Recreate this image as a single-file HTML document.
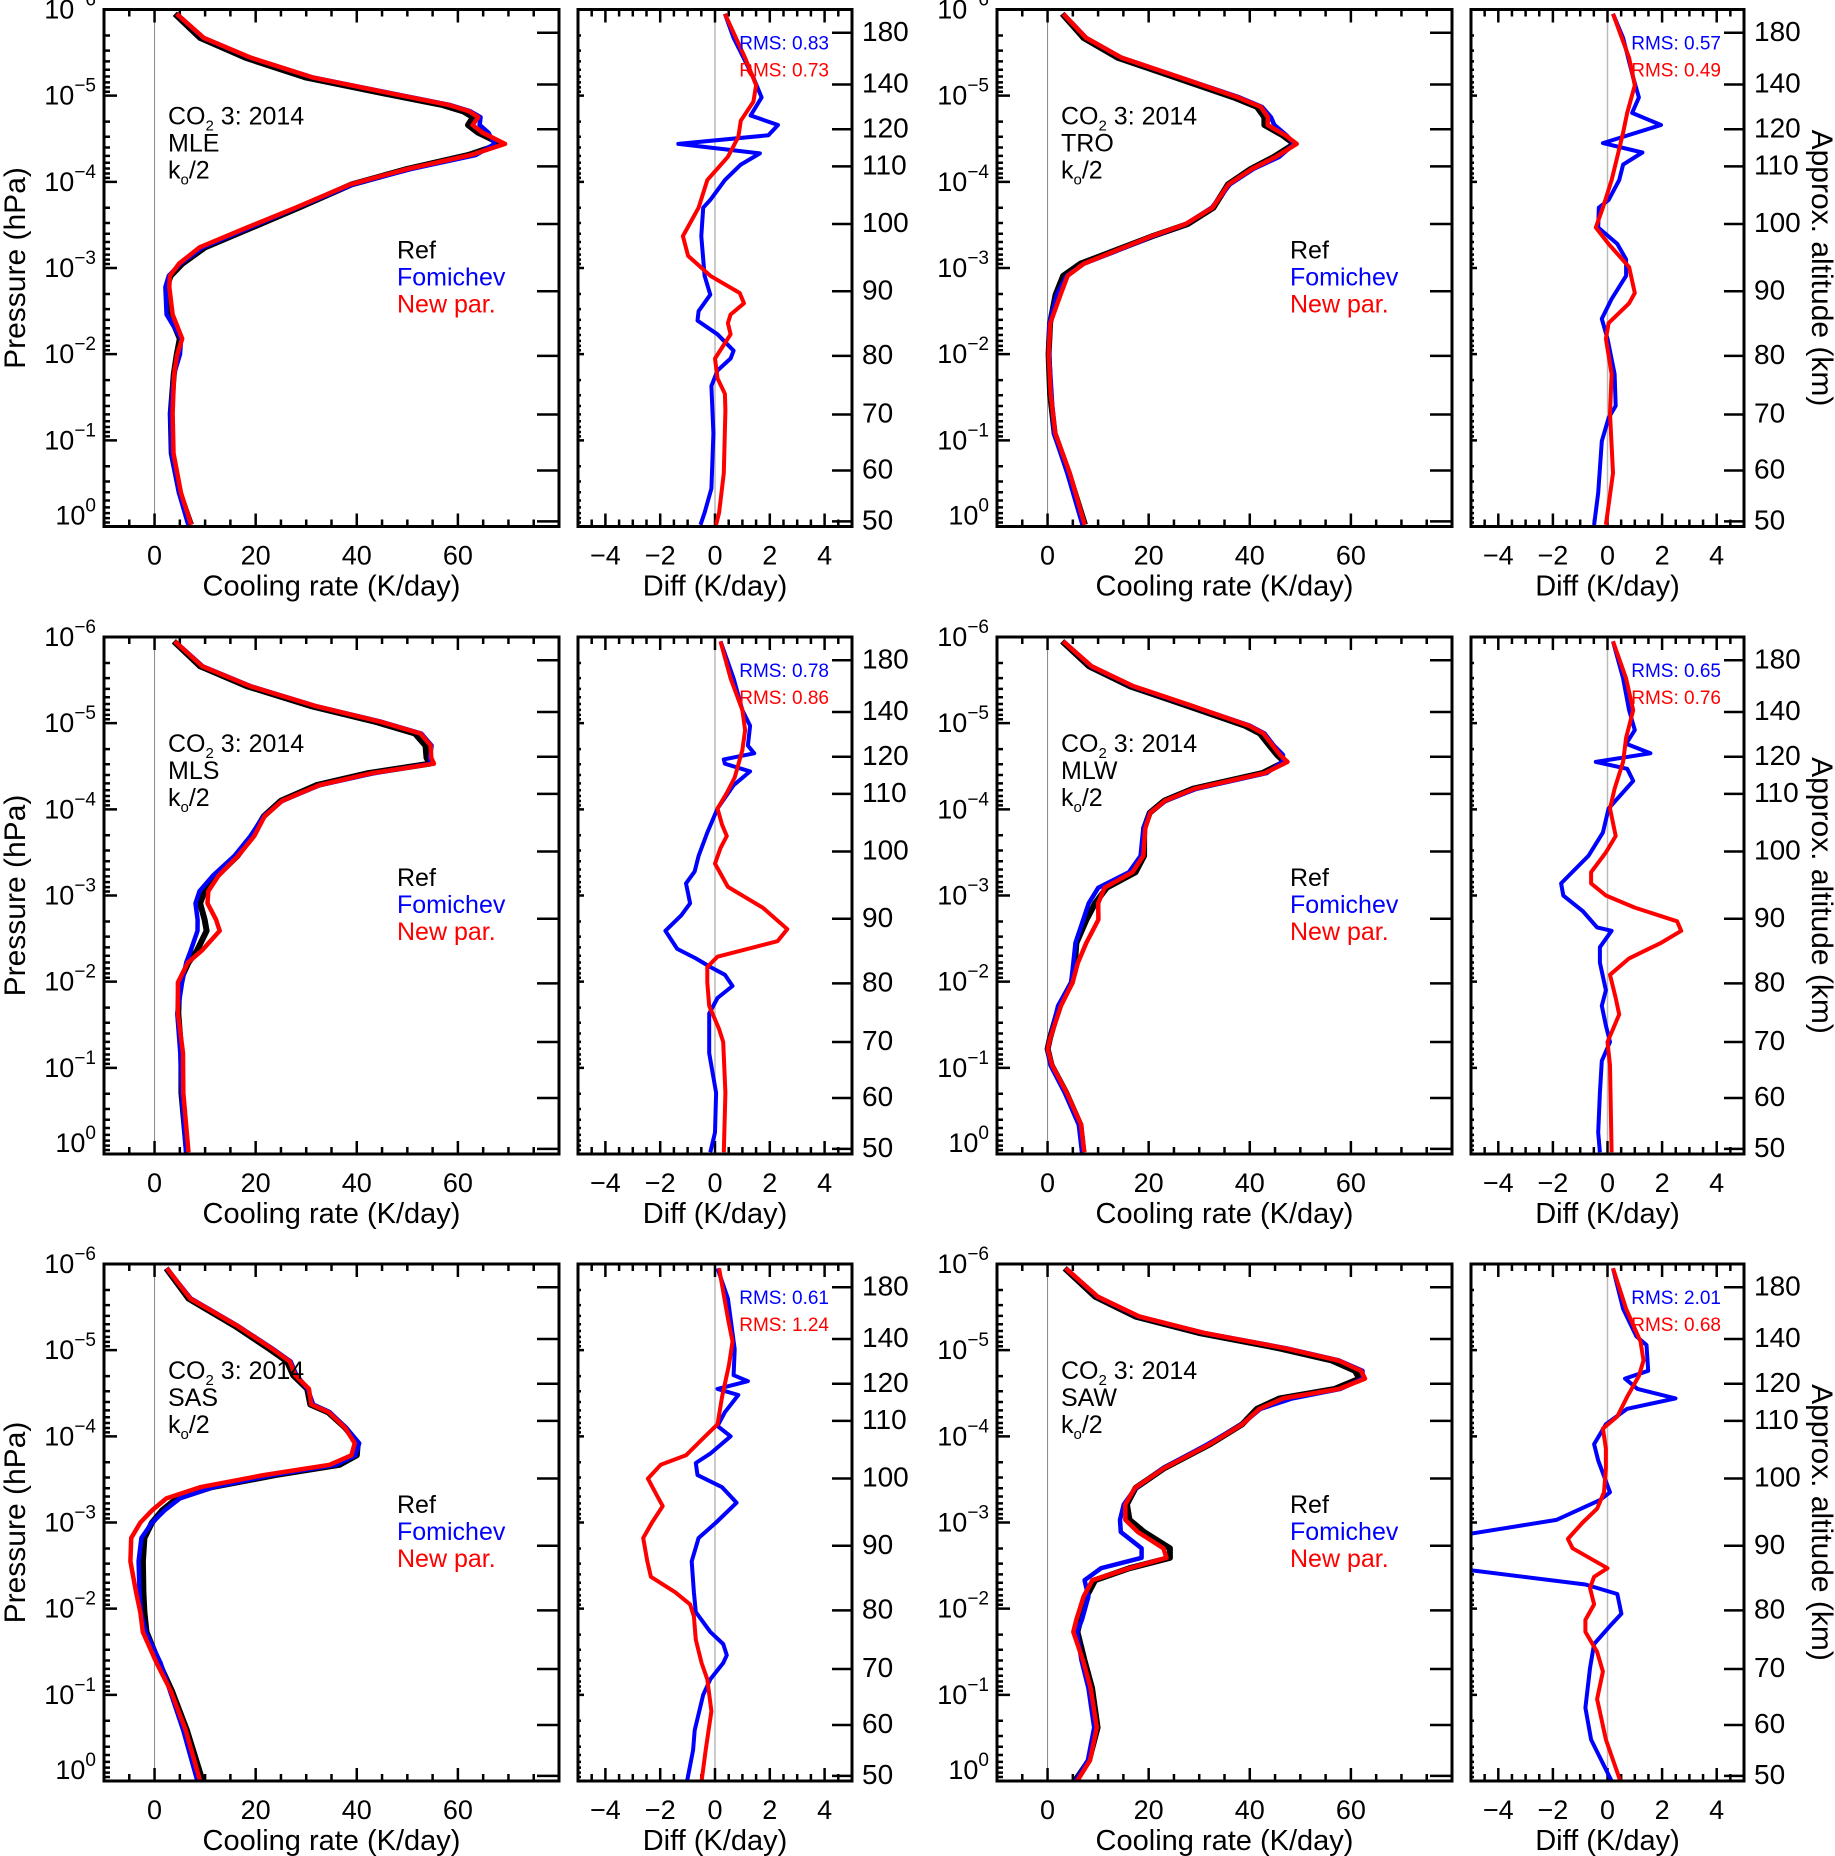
<!DOCTYPE html>
<html><head><meta charset="utf-8">
<style>
html,body{margin:0;padding:0;background:#fff;}
svg{display:block;font-family:"Liberation Sans",sans-serif;}
</style></head>
<body>
<svg id="fig" width="1835" height="1856" viewBox="0 0 1835 1856" xmlns="http://www.w3.org/2000/svg"></svg>
<script>
// ---------- DATA (log10 pressure levels in hPa, values K/day) ----------
const panelNames = ["MLE","TRO","MLS","MLW","SAS","SAW"];
const rmsFom = ["0.83","0.57","0.78","0.65","0.61","2.01"];
const rmsNew = ["0.73","0.49","0.86","0.76","1.24","0.68"];
const coolTicks = [0,20,40,60];
const diffTicks = [-4,-2,0,2,4];
const pressTicks = [-6,-5,-4,-3,-2,-1,0];
const altLabels = [180,140,120,110,100,90,80,70,60,50];
const altLogP = [-5.73,-5.13,-4.61,-4.18,-3.51,-2.73,-1.98,-1.30,-0.65,-0.06];

// MLE
const refLev0 = [-5.95,-5.67,-5.44,-5.21,-5.03,-4.89,-4.82,-4.75,-4.66,-4.57,-4.44,-4.31,-4.15,-3.97,-3.70,-3.47,-3.24,-3.05,-2.91,-2.78,-2.46,-2.18,-2.0,-1.77,-1.31,-0.85,-0.39,-0.02];
const ref0 = [4,9,18,30,45,57,61,63,62,64,68.6,62,50,39,28.5,19.3,10,5.5,3.2,2.4,3,5,4.4,3.8,3.2,3.4,5,7.2];
const fomLev0 = [-5.95,-5.67,-5.21,-4.98,-4.77,-4.66,-4.54,-4.44,-4.33,-4.2,-4.02,-3.79,-3.7,-3.37,-2.91,-2.69,-2.5,-2.39,-2.23,-2.04,-1.95,-1.81,-1.63,-1.08,-0.44,-0.16,-0.02];
const dFom0 = [0.36,0.68,1.4,1.7,1.3,2.3,1.95,-1.34,1.64,0.94,0.36,-0.17,-0.43,-0.5,-0.38,-0.17,-0.6,-0.64,0.09,0.68,0.57,0.09,-0.13,-0.06,-0.13,-0.38,-0.53];
const newLev0 = [-5.95,-5.44,-5.12,-4.93,-4.71,-4.52,-4.29,-4.02,-3.70,-3.37,-3.14,-2.91,-2.71,-2.59,-2.46,-2.36,-2.23,-1.95,-1.72,-1.54,-1.35,-0.62,-0.16,-0.02];
const dNew0 = [0.36,1.1,1.5,1.4,0.94,0.85,0.47,-0.28,-0.6,-1.17,-0.98,-0.17,0.9,1.06,0.57,0.47,0.57,0.0,0.09,0.36,0.38,0.32,0.15,0.04];
// TRO
const refLev1 = [-5.95,-5.67,-5.44,-5.21,-4.98,-4.87,-4.75,-4.66,-4.54,-4.44,-4.29,-4.15,-3.97,-3.70,-3.51,-3.37,-3.19,-3.05,-2.91,-2.69,-2.36,-2.0,-1.54,-1.08,-0.62,-0.02];
const ref1 = [2.9,7.1,13.9,25.4,36.8,41.4,42.9,42.9,46.5,48.8,44.8,40.2,35.7,32.8,27.7,20.8,12.8,6.5,3.1,1.6,0.5,0.2,0.5,1.4,4.2,7.4];
const fomLev1 = [-5.95,-5.67,-5.21,-4.98,-4.8,-4.66,-4.45,-4.34,-4.2,-4.02,-3.79,-3.7,-3.47,-3.28,-3.1,-2.91,-2.64,-2.41,-2.18,-1.77,-1.4,-1.26,-0.99,-0.39,-0.02];
const dFom1 = [0.2,0.57,0.94,1.15,0.9,1.96,-0.17,1.28,0.57,0.43,0.04,-0.32,-0.34,0.36,0.68,0.68,0.15,-0.21,0,0.26,0.3,0.04,-0.21,-0.34,-0.49];
const newLev1 = [-5.95,-5.44,-5.12,-4.8,-4.57,-4.29,-4.02,-3.7,-3.47,-3.28,-3.01,-2.71,-2.59,-2.36,-2.18,-1.77,-1.31,-0.62,-0.02];
const dNew1 = [0.2,0.79,1.0,0.72,0.57,0.36,0.15,-0.17,-0.43,0.04,0.79,1.0,0.79,0.04,-0.06,0.15,0.09,0.2,-0.06];
// MLS
const refLev2 = [-5.95,-5.66,-5.43,-5.2,-5.02,-4.88,-4.74,-4.6,-4.53,-4.42,-4.28,-4.1,-3.92,-3.69,-3.46,-3.23,-3.05,-2.91,-2.72,-2.59,-2.36,-2.22,-1.99,-1.63,-1.17,-0.71,-0.02];
const ref2 = [3.8,9,18.2,30.8,43.4,51.5,53.6,53.8,54.4,42.3,32,25,21.6,19.3,16.4,12.4,9.9,9,9.9,10.3,8.4,6.7,4.9,4.7,5.3,5.3,6.4];
const fomLev2 = [-5.95,-5.52,-5.15,-4.97,-4.74,-4.65,-4.58,-4.53,-4.44,-4.28,-4.01,-3.73,-3.46,-3.28,-3.14,-2.91,-2.77,-2.59,-2.38,-2.27,-2.17,-2.08,-1.95,-1.81,-1.63,-1.17,-0.71,-0.25,-0.02];
const dFom2 = [0.2,0.68,1.0,1.28,1.2,1.43,0.32,0.36,1.28,0.68,0.09,-0.28,-0.6,-0.74,-1.06,-0.91,-1.23,-1.81,-1.38,-0.7,-0.17,0.36,0.64,0.09,-0.21,-0.21,0.04,0,-0.17];
const newLev2 = [-5.95,-5.52,-5.15,-4.92,-4.69,-4.37,-4.19,-4.01,-3.82,-3.69,-3.55,-3.37,-3.1,-2.86,-2.61,-2.47,-2.29,-2.17,-1.99,-1.72,-1.45,-1.3,-0.71,-0.02];
const dNew2 = [0.2,0.57,1.0,1.1,1.0,0.72,0.43,0.09,0.26,0.43,0.2,0,0.47,1.74,2.64,2.28,0.09,-0.28,-0.28,-0.21,0.15,0.3,0.38,0.32];
// MLW
const refLev3 = [-5.95,-5.66,-5.43,-5.2,-4.97,-4.88,-4.74,-4.63,-4.55,-4.42,-4.24,-4.1,-3.96,-3.78,-3.46,-3.27,-3.09,-2.91,-2.72,-2.45,-2.22,-1.99,-1.72,-1.35,-1.22,-1.03,-0.71,-0.34,-0.02];
const ref3 = [2.9,8.2,16.2,27.7,39.1,42,43.9,45.4,46.9,42.5,28.8,23.1,20.2,19.1,19.1,17.4,11.7,9.4,7.7,5.7,5.4,4.8,2.3,0.5,0,0.8,3.7,6.5,7.1];
const fomLev3 = [-5.95,-5.52,-5.15,-4.92,-4.76,-4.65,-4.55,-4.47,-4.33,-4.01,-3.73,-3.46,-3.14,-3.0,-2.82,-2.63,-2.59,-2.4,-2.22,-1.9,-1.72,-1.49,-1.3,-1.08,-0.71,-0.25,-0.02];
const dFom3 = [0.2,0.57,0.79,1.0,0.68,1.57,-0.43,0.72,0.94,0.04,-0.17,-0.7,-1.7,-1.62,-0.91,-0.38,0.15,-0.28,-0.28,-0.06,-0.21,-0.06,0.09,-0.21,-0.28,-0.34,-0.28];
const newLev3 = [-5.95,-5.52,-5.15,-4.83,-4.55,-4.24,-4.01,-3.69,-3.5,-3.27,-3.14,-3.0,-2.86,-2.7,-2.59,-2.45,-2.27,-2.08,-1.81,-1.62,-1.45,-1.3,-1.03,-0.02];
const dNew3 = [0.2,0.68,0.94,0.68,0.57,0.26,0.09,0.3,-0.06,-0.6,-0.6,-0.06,1.0,2.55,2.7,1.96,0.79,0.09,0.3,0.43,0.2,0,0.09,0.15];
// SAS
const refLev4 = [-5.95,-5.6,-5.28,-5.01,-4.87,-4.71,-4.55,-4.37,-4.28,-4.1,-3.92,-3.78,-3.67,-3.55,-3.41,-3.28,-3.14,-3.0,-2.82,-2.55,-2.19,-1.96,-1.73,-1.37,-1.05,-0.59,0];
const ref4 = [2.3,6.7,15.9,22.8,26.2,27.4,30.2,30.8,34.3,37.7,40.2,40,36.6,23.9,11.3,4.4,1.5,-0.5,-2.0,-2.3,-2.2,-2.0,-1.6,0.9,3.4,6.4,9.5];
const fomLev4 = [-5.95,-5.6,-5.01,-4.71,-4.64,-4.55,-4.48,-4.28,-4.12,-4.0,-3.8,-3.69,-3.55,-3.41,-3.23,-3.0,-2.82,-2.55,-2.19,-1.96,-1.73,-1.59,-1.46,-1.37,-1.18,-1.0,-0.59,-0.36,0];
const dFom4 = [0.09,0.47,0.72,0.68,1.2,0.09,0.85,0.36,0.09,0.57,-0.17,-0.7,-0.64,0.26,0.79,0.04,-0.6,-0.85,-0.77,-0.7,-0.17,0.3,0.43,0.3,-0.17,-0.43,-0.74,-0.8,-1.02];
const newLev4 = [-5.95,-5.37,-5.1,-4.83,-4.46,-4.14,-3.96,-3.78,-3.67,-3.51,-3.32,-3.19,-3.0,-2.82,-2.55,-2.37,-2.19,-2.05,-1.91,-1.64,-1.37,-1.18,-0.81,-0.36,0];
const dNew4 = [0.15,0.47,0.64,0.51,0.26,0.09,-0.49,-1.06,-1.98,-2.45,-2.13,-1.91,-2.3,-2.62,-2.47,-2.34,-1.45,-0.91,-0.77,-0.7,-0.49,-0.28,-0.13,-0.34,-0.49];
// SAW
const refLev5 = [-5.95,-5.62,-5.39,-5.2,-5.02,-4.88,-4.76,-4.67,-4.55,-4.44,-4.32,-4.14,-3.91,-3.63,-3.4,-3.21,-3.03,-2.89,-2.7,-2.59,-2.47,-2.33,-2.14,-1.87,-1.73,-1.4,-1.08,-0.62,-0.24,0];
const ref5 = [3.4,9.4,17.4,29.9,45.9,56.2,60.8,61.7,56.8,45.9,41.4,38.5,32.2,23.1,17.4,15.7,16.2,19.1,24.2,24.2,16.2,9.4,7.7,6.5,5.9,7.3,8.8,9.9,8.2,5.4];
const fomLev5 = [-5.95,-5.48,-5.16,-5.06,-4.76,-4.67,-4.55,-4.44,-4.32,-4.14,-3.91,-3.72,-3.35,-3.26,-3.03,-2.84,-2.47,-2.28,-2.17,-1.94,-1.82,-1.59,-1.31,-0.85,-0.48,0];
const dFom5 = [0.2,0.57,1.06,1.43,1.49,0.64,1.1,2.49,0.72,-0.06,-0.49,-0.34,0.09,-0.28,-1.87,-5.6,-5.6,-0.81,0.36,0.51,0.15,-0.49,-0.64,-0.81,-0.6,0.15];
const newLev5 = [-5.95,-5.48,-5.1,-4.88,-4.7,-4.46,-4.23,-4.09,-3.86,-3.63,-3.35,-3.16,-3.0,-2.81,-2.7,-2.47,-2.37,-2.24,-2.05,-1.87,-1.73,-1.5,-1.27,-0.95,-0.48,0];
const dNew5 = [0.2,0.68,1.21,1.32,1.15,0.72,0.36,-0.17,-0.06,-0.06,-0.13,-0.38,-0.91,-1.45,-1.28,0,-0.49,-0.64,-0.49,-0.81,-0.81,-0.38,-0.17,-0.38,-0.06,0.47];

const refLevs=[refLev0,refLev1,refLev2,refLev3,refLev4,refLev5];
const refs=[ref0,ref1,ref2,ref3,ref4,ref5];
const fomLevs=[fomLev0,fomLev1,fomLev2,fomLev3,fomLev4,fomLev5];
const dFoms=[dFom0,dFom1,dFom2,dFom3,dFom4,dFom5];
const newLevs=[newLev0,newLev1,newLev2,newLev3,newLev4,newLev5];
const dNews=[dNew0,dNew1,dNew2,dNew3,dNew4,dNew5];

// ---------- DRAWING ----------
const NS="http://www.w3.org/2000/svg";
const svg=document.getElementById('fig');
function mk(tag,attrs,parent){const e=document.createElementNS(NS,tag);for(const k in attrs)e.setAttribute(k,attrs[k]);(parent||svg).appendChild(e);return e;}
function interp(levs,vals,l){
  if(l<=levs[0])return vals[0];
  for(let i=1;i<levs.length;i++){if(l<=levs[i]){const t=(l-levs[i-1])/(levs[i]-levs[i-1]);return vals[i-1]+t*(vals[i]-vals[i-1]);}}
  return vals[vals.length-1];
}
const colX=[{c0:104,c1:559,d0:578,d1:852},{c0:997,c1:1452,d0:1471,d1:1744}];
const rowY=[9.5,637,1264];
const H=517;

function panel(p){
  const col=p%2,row=Math.floor(p/2);
  const C=colX[col],top=rowY[row],bot=top+H;
  const yS=l=>top+(l+6)/6*H;
  const xC=v=>C.c0+(v+10)/90*(C.c1-C.c0);
  const xD=v=>C.d0+(v+5)/10*(C.d1-C.d0);
  const g=mk('g',{});
  
  
  const cid='clip'+p;
  const defs=mk('defs',{},g);
  const cp=mk('clipPath',{id:cid},defs);
  mk('rect',{x:C.d0,y:top,width:C.d1-C.d0,height:H},cp);
  const cid2='clipc'+p;
  const cp2=mk('clipPath',{id:cid2},defs);
  mk('rect',{x:C.c0,y:top,width:C.c1-C.c0,height:H},cp2);

  const z1=mk('line',{x1:xC(0),x2:xC(0),y1:top,y2:bot,stroke:'#888','stroke-width':1},g);
   
  const z2=mk('line',{x1:xD(0),x2:xD(0),y1:top,y2:bot,stroke:'#bbb','stroke-width':1.5},g);
   

  let tk='';
  for(let v=-10;v<=80;v+=5){const x=xC(v),L=(v%20===0)?13:7;tk+=`M${x},${top}v${L}M${x},${bot}v${-L}`;}
  for(let v=-5;v<=5.001;v+=0.5){const x=xD(v),L=(Math.abs(v%2)<0.01)?13:7;tk+=`M${x},${top}v${L}M${x},${bot}v${-L}`;}
  for(let d=-6;d<0;d++){for(let m=1;m<10;m++){const l=d+Math.log10(m);const y=yS(l);const L=m===1?13:6;tk+=`M${C.c0},${y}h${L}`;tk+=`M${C.d0},${y}h${m===1?6:3}`;}}
  tk+=`M${C.c0},${yS(0)}h13`;
  altLogP.forEach(l=>{const y=yS(l);tk+=`M${C.c1},${y}h-22M${C.d1},${y}h-20`;});
  const tp=mk('path',{d:tk,stroke:'#000','stroke-width':2.5,fill:'none'},g);
   

  function line(levs,vals,xf,color,w,clip,name){
    const d=levs.map((l,i)=>(i?'L':'M')+xf(vals[i]).toFixed(1)+','+yS(l).toFixed(1)).join('');
    const pth=mk('path',{d:d,stroke:color,'stroke-width':w,fill:'none','stroke-linejoin':'round','clip-path':`url(#${clip})`},g);
    
    
  }
  const rl=refLevs[p],rv=refs[p];
  const fomV=rl.map((l,i)=>rv[i]+interp(fomLevs[p],dFoms[p],l));
  const newV=rl.map((l,i)=>rv[i]+interp(newLevs[p],dNews[p],l));
  line(rl,rv,xC,'#000',6,cid2,'ref-curve');
  line(rl,fomV,xC,'#00f',4.5,cid2,'fomichev-curve');
  line(rl,newV,xC,'#f00',4.5,cid2,'new-par-curve');
  line(fomLevs[p],dFoms[p],xD,'#00f',4,cid,'fomichev-diff-curve');
  line(newLevs[p],dNews[p],xD,'#f00',4,cid,'new-par-diff-curve');

  const f1=mk('rect',{x:C.c0,y:top,width:C.c1-C.c0,height:H,fill:'none',stroke:'#000','stroke-width':3},g);
   
  const f2=mk('rect',{x:C.d0,y:top,width:C.d1-C.d0,height:H,fill:'none',stroke:'#000','stroke-width':3},g);
   

  function txt(x,y,s,attrs,name){const t=mk('text',Object.assign({x:x,y:y},attrs),g);t.innerHTML=s;return t;}
  const tl={'font-size':27,'text-anchor':'middle',fill:'#000'};
  coolTicks.forEach(v=>txt(xC(v),bot+38,String(v),tl,'x-tick-label'));
  diffTicks.forEach(v=>txt(xD(v),bot+38,(v<0?'\u2212':'')+Math.abs(v),tl,'diff-tick-label'));
  txt((C.c0+C.c1)/2,bot+69,'Cooling rate (K/day)',{'font-size':29,'text-anchor':'middle'},'x-axis-title');
  txt((C.d0+C.d1)/2,bot+69,'Diff (K/day)',{'font-size':29,'text-anchor':'middle'},'diff-axis-title');
  pressTicks.forEach(l=>{const y=yS(l)+(l===0?-2:9);txt(C.c0-8,y,`10<tspan font-size="19" dy="-13">${l===0?'0':'\u2212'+(-l)}</tspan>`,{'font-size':27,'text-anchor':'end'},'y-tick-label');});
  altLabels.forEach((a,i)=>txt(C.d1+10,yS(altLogP[i])+8,String(a),{'font-size':28},'altitude-tick-label'));
  const ax=C.c0+64;
  txt(ax,top+115,'CO<tspan font-size="15" dy="6">2</tspan><tspan dy="-6"> 3: 2014</tspan>',{'font-size':25},'case-title');
  txt(ax,top+142,panelNames[p],{'font-size':25},'atmosphere-label');
  txt(ax,top+169,'k<tspan font-size="15" dy="6">o</tspan><tspan dy="-6">/2</tspan>',{'font-size':25},'k-label');
  txt(C.c0+293,top+249,'Ref',{'font-size':25,fill:'#000'},'legend-ref');
  txt(C.c0+293,top+276,'Fomichev',{'font-size':25,fill:'#00f'},'legend-fomichev');
  txt(C.c0+293,top+303,'New par.',{'font-size':25,fill:'#f00'},'legend-new-par');
  txt(C.d1-23,top+40,'RMS: '+rmsFom[p],{'font-size':19,fill:'#00f','text-anchor':'end'},'rms-fomichev');
  txt(C.d1-23,top+67,'RMS: '+rmsNew[p],{'font-size':19,fill:'#f00','text-anchor':'end'},'rms-new-par');
  if(col===0){txt(0,0,'Pressure (hPa)',{'font-size':30,'text-anchor':'middle',transform:`translate(25,${top+H/2}) rotate(-90)`},'y-axis-title');}
  else{txt(0,0,'Approx. altitude (km)',{'font-size':30,'text-anchor':'middle',transform:`translate(1812,${top+H/2}) rotate(90)`},'altitude-axis-title');}
}
for(let p=0;p<6;p++)panel(p);
</script>
</body></html>
